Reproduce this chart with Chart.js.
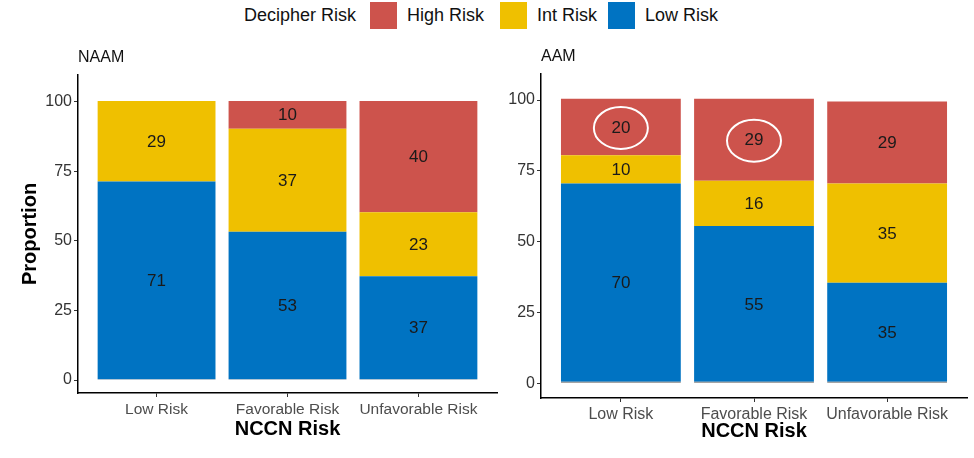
<!DOCTYPE html>
<html><head><meta charset="utf-8">
<script src="https://cdn.jsdelivr.net/npm/chart.js@4/dist/chart.umd.min.js"></script>
<style>
html,body{margin:0;padding:0;background:#fff;width:974px;height:458px;overflow:hidden;font-family:"Liberation Sans",Arial,sans-serif}
#cl{position:absolute;left:0;top:0}
#cr{position:absolute;left:490px;top:0}
.lt{position:absolute;top:5px;font-size:18px;line-height:20px;color:#111;white-space:nowrap}
.lb{position:absolute;top:2px;width:27px;height:27px}
</style></head><body>
<div class="lt" style="left:244px">Decipher Risk</div>
<div class="lb" style="left:370px;background:#CD534C"></div>
<div class="lt" style="left:407px">High Risk</div>
<div class="lb" style="left:500px;background:#EFC000"></div>
<div class="lt" style="left:537px">Int Risk</div>
<div class="lb" style="left:608px;background:#0073C2"></div>
<div class="lt" style="left:645px">Low Risk</div>
<canvas id="cl" width="505" height="458"></canvas>
<canvas id="cr" width="484" height="458"></canvas>
<script>
const categories = ['Low Risk', 'Favorable Risk', 'Unfavorable Risk'];
const yTicks = [0, 25, 50, 75, 100];
// NAAM panel (percent)
const naamLow = [71, 53, 37];
const naamInt = [29, 37, 23];
const naamHigh = [0, 10, 40];
const naamOther = [0.3, 0.3, 0.3];
// AAM panel (percent)
const aamLow = [70, 55, 35];
const aamInt = [10, 16, 35];
const aamHigh = [20, 29, 29];
const aamOther = [0.5, 0.5, 0.5];
const aamCircledHigh = [true, true, false];

const COL = {High: '#CD534C', Int: '#EFC000', Low: '#0073C2', Other: '#868686'};
const FONT = '"Liberation Sans", Arial, sans-serif';

const toXY = arr => arr.map((v, i) => ({x: i + 1, y: v}));

const labelPlugin = {
  id: 'segLabels',
  afterDatasetsDraw(chart) {
    const ctx = chart.ctx;
    ctx.save();
    ctx.font = '17px ' + FONT;
    ctx.fillStyle = '#1a1a1a';
    ctx.textAlign = 'center';
    ctx.textBaseline = 'middle';
    chart.data.datasets.forEach((ds, di) => {
      if (ds.label === 'Other') return;
      const meta = chart.getDatasetMeta(di);
      meta.data.forEach((el, i) => {
        const v = ds.data[i].y;
        if (!v) return;
        ctx.fillText(String(v), el.x, (el.y + el.base) / 2 + 1);
      });
    });
    ctx.restore();
  }
};

const panelTitlePlugin = {
  id: 'panelTitle',
  afterDraw(chart, args, opts) {
    const ctx = chart.ctx;
    ctx.save();
    ctx.font = '16px ' + FONT;
    ctx.fillStyle = '#111';
    ctx.textAlign = 'left';
    ctx.textBaseline = 'middle';
    ctx.fillText(opts.text, chart.chartArea.left, chart.chartArea.top - 17);
    ctx.restore();
  }
};

const circlePlugin = {
  id: 'circles',
  afterDatasetsDraw(chart, args, opts) {
    if (!opts.flags) return;
    const di = chart.data.datasets.findIndex(d => d.label === 'High Risk');
    const meta = chart.getDatasetMeta(di);
    const ctx = chart.ctx;
    ctx.save();
    ctx.strokeStyle = '#ffffff';
    ctx.lineWidth = 2;
    opts.flags.forEach((f, i) => {
      if (!f) return;
      const el = meta.data[i];
      ctx.beginPath();
      ctx.ellipse(el.x, (el.y + el.base) / 2 + 1, 27, 21, 0, 0, Math.PI * 2);
      ctx.stroke();
    });
    ctx.restore();
  }
};

function makeChart(id, d, g) {
  return new Chart(document.getElementById(id), {
    type: 'bar',
    data: {
      datasets: [
        {label: 'Other', data: toXY(d.other), backgroundColor: COL.Other},
        {label: 'Low Risk', data: toXY(d.low), backgroundColor: COL.Low},
        {label: 'Int Risk', data: toXY(d.int), backgroundColor: COL.Int},
        {label: 'High Risk', data: toXY(d.high), backgroundColor: COL.High}
      ]
    },
    plugins: [labelPlugin, panelTitlePlugin, circlePlugin],
    options: {
      responsive: false,
      animation: false,
      devicePixelRatio: 1,
      borderWidth: 0,
      categoryPercentage: 1,
      barPercentage: 0.9,
      layout: {padding: {left: 0, right: g.padRight, top: g.top, bottom: 0}},
      plugins: {
        legend: {display: false},
        tooltip: {enabled: false},
        panelTitle: {text: g.title},
        circles: {flags: g.circles}
      },
      scales: {
        x: {
          type: 'linear',
          stacked: true,
          offset: false,
          min: 0.4, max: 3.6,
          afterBuildTicks: s => { s.ticks = categories.map((c, i) => ({value: i + 1})); },
          afterFit: s => { s.height = g.xHeight; },
          grid: {drawOnChartArea: false, drawTicks: true, tickLength: 4, color: '#333', offset: false},
          border: {display: true, color: '#000', width: 1.5},
          ticks: {
            autoSkip: false, maxRotation: 0, padding: 3,
            color: '#4d4d4d', font: {family: FONT, size: g.tickSize},
            callback: v => categories[v - 1]
          },
          title: {display: true, text: 'NCCN Risk', color: '#000',
                  font: {family: FONT, size: 20, weight: 'bold'},
                  padding: {top: 0, bottom: g.xTitlePad}}
        },
        y: {
          stacked: true,
          min: g.ymin, max: g.ymax,
          afterBuildTicks: s => { s.ticks = yTicks.map(v => ({value: v})); },
          afterFit: s => { s.width = g.yWidth; },
          grid: {drawOnChartArea: false, drawTicks: true, tickLength: 4, color: '#333'},
          border: {display: true, color: '#000', width: 1.5},
          ticks: {padding: 2, color: '#333', font: {family: FONT, size: 16}},
          title: {display: g.yTitle, text: 'Proportion', color: '#000',
                  font: {family: FONT, size: 20, weight: 'bold'},
                  padding: {top: 18, bottom: 0}}
        }
      }
    }
  });
}

makeChart('cl', {low: naamLow, int: naamInt, high: naamHigh, other: naamOther}, {
  title: 'NAAM', padRight: 8, top: 75, xHeight: 65, yWidth: 78,
  ymin: -4.67, ymax: 109.6, tickSize: 15.5, xTitlePad: 17, yTitle: true, circles: null
});
makeChart('cr', {low: aamLow, int: aamInt, high: aamHigh, other: aamOther}, {
  title: 'AAM', padRight: 7, top: 74, xHeight: 60, yWidth: 51,
  ymin: -5.2, ymax: 109.2, tickSize: 16, xTitlePad: 15, yTitle: false, circles: aamCircledHigh
});
</script>
</body></html>
